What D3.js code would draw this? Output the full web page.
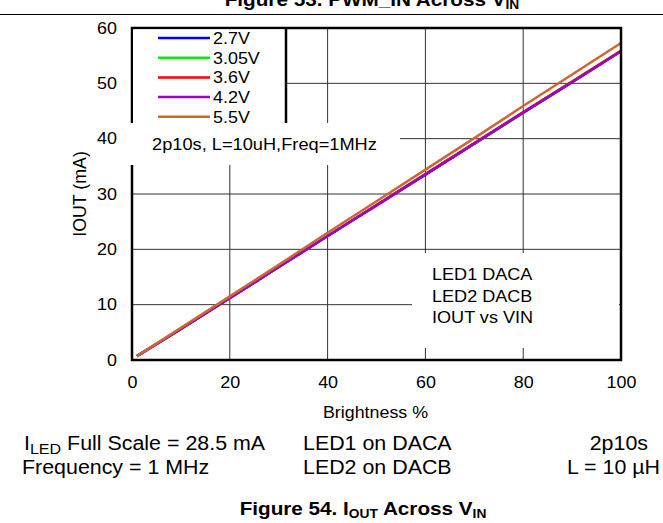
<!DOCTYPE html>
<html>
<head>
<meta charset="utf-8">
<script src="https://cdn.jsdelivr.net/npm/d3@7"></script>
<style>
  body { margin: 0; background: #fff; }
  svg text { font-family: "Liberation Sans", Arial, sans-serif; fill: #000; }
</style>
</head>
<body>
<svg width="663" height="523"></svg>
<script>
// brightness steps (%) and IOUT (mA) per supply voltage
var brightness = [1, 10, 20, 30, 40, 50, 60, 70, 80, 90, 100];
var v27  = [0.7, 5.6, 11.2, 16.8, 22.4, 28.0, 33.5, 39.1, 44.7, 50.2, 55.8];
var v305 = [0.7, 5.6, 11.2, 16.8, 22.4, 28.0, 33.6, 39.1, 44.7, 50.3, 55.9];
var v36  = [0.7, 5.6, 11.2, 16.8, 22.4, 28.0, 33.6, 39.2, 44.8, 50.3, 55.9];
var v42  = [0.7, 5.6, 11.2, 16.8, 22.4, 27.9, 33.5, 39.1, 44.7, 50.2, 55.8];
var v55  = [0.7, 5.8, 11.5, 17.2, 23.0, 28.7, 34.4, 40.1, 45.9, 51.6, 57.3];

var seriesNames = ["2.7V", "3.05V", "3.6V", "4.2V", "5.5V"];
var seriesColors = ["#0000ff", "#00ee00", "#ff0000", "#9900cc", "#cc6633"];
var seriesValues = [v27, v305, v36, v42, v55];

var xTicks = [0, 20, 40, 60, 80, 100];
var yTicks = [0, 10, 20, 30, 40, 50, 60];

var svg = d3.select("svg");
var margin = {top: 28, right: 42, bottom: 163, left: 132};
var width = +svg.attr("width") - margin.left - margin.right;
var height = +svg.attr("height") - margin.top - margin.bottom;

// the source text is a bit wider than plain Arial, so stretch it horizontally
function label(parent, x, y, str, size, sx, anchor) {
  return parent.append("text")
    .attr("transform", "translate(" + x + "," + y + ") scale(" + sx + ",1)")
    .attr("text-anchor", anchor || "start")
    .style("font-size", size + "px")
    .text(str);
}

// clipped title of the previous figure + rule
var prevTitle = svg.append("text")
  .attr("transform", "translate(372,6) scale(1.15,1)")
  .attr("text-anchor", "middle")
  .style("font-weight", "bold").style("font-size", "18px");
prevTitle.append("tspan").text("Figure 53. PWM_IN Across V");
prevTitle.append("tspan").attr("dy", 3).style("font-size", "12px").text("IN");
svg.append("line")
  .attr("x1", 0).attr("x2", 663).attr("y1", 14.5).attr("y2", 14.5)
  .attr("stroke", "#000").attr("stroke-width", 1);

var g = svg.append("g")
  .attr("transform", "translate(" + margin.left + "," + margin.top + ")");

var x = d3.scaleLinear().domain([0, 100]).range([0, width]);
var y = d3.scaleLinear().domain([0, 60]).range([height, 0]);

// grid
g.append("g").selectAll("line")
  .data(xTicks.slice(1, -1)).enter().append("line")
  .attr("x1", function(d) { return x(d); })
  .attr("x2", function(d) { return x(d); })
  .attr("y1", 0).attr("y2", height)
  .attr("stroke", "#333").attr("stroke-width", 1);
g.append("g").selectAll("line")
  .data(yTicks.slice(1, -1)).enter().append("line")
  .attr("y1", function(d) { return y(d); })
  .attr("y2", function(d) { return y(d); })
  .attr("x1", 0).attr("x2", width)
  .attr("stroke", "#333").attr("stroke-width", 1);

// series
var line = d3.line()
  .x(function(d, i) { return x(brightness[i]); })
  .y(function(d) { return y(d); });

seriesValues.forEach(function(vals, i) {
  g.append("path")
    .datum(vals)
    .attr("fill", "none")
    .attr("stroke", seriesColors[i])
    .attr("stroke-width", 2.5)
    .attr("d", line);
});

// frame
g.append("rect")
  .attr("width", width).attr("height", height)
  .attr("fill", "none").attr("stroke", "#000").attr("stroke-width", 2.5);

// axes
var xAxis = g.append("g")
  .attr("transform", "translate(0," + height + ")")
  .call(d3.axisBottom(x).tickValues(xTicks).tickSize(0).tickPadding(16));
var yAxis = g.append("g")
  .call(d3.axisLeft(y).tickValues(yTicks).tickSize(0).tickPadding(15));
[xAxis, yAxis].forEach(function(a) {
  a.select(".domain").remove();
  a.selectAll("text").style("font-size", "16px")
    .style("font-family", "Liberation Sans, Arial, sans-serif");
});
xAxis.selectAll(".tick text").attr("transform", "translate(0,17) scale(1.12,1)")
  .attr("y", 0);
yAxis.selectAll(".tick text").attr("transform", "translate(-15,0) scale(1.12,1)")
  .attr("x", 0);

// legend box
var legend = g.append("g");
legend.append("rect")
  .attr("x", 1).attr("y", 1.5).attr("width", 153).attr("height", 94)
  .attr("fill", "#fff");
legend.append("line")
  .attr("x1", 154).attr("x2", 154).attr("y1", 0).attr("y2", 95)
  .attr("stroke", "#000").attr("stroke-width", 2.5);
seriesNames.forEach(function(name, i) {
  var ly = 10 + i * 19.7;
  legend.append("line")
    .attr("x1", 26).attr("x2", 78).attr("y1", ly).attr("y2", ly)
    .attr("stroke", seriesColors[i]).attr("stroke-width", 2.5);
  label(legend, 81, ly + 6, name, 16, 1.12);
});

// condition box
g.append("rect")
  .attr("x", -3).attr("y", 95).attr("width", 271).attr("height", 42)
  .attr("fill", "#fff");
label(g, 20, 122, "2p10s, L=10uH,Freq=1MHz", 16, 1.14);

// info box
g.append("rect")
  .attr("x", 280).attr("y", 225).attr("width", 207).attr("height", 95)
  .attr("fill", "#fff");
["LED1 DACA", "LED2 DACB", "IOUT vs VIN"].forEach(function(t, i) {
  label(g, 300, 252 + i * 21.5, t, 16, 1.13);
});

// axis titles
svg.append("text")
  .attr("transform", "translate(86,194) rotate(-90)")
  .attr("text-anchor", "middle")
  .style("font-size", "17.8px")
  .text("IOUT (mA)");
label(svg, margin.left + width / 2 - 1, 418, "Brightness %", 17, 1.05, "middle");

// notes under the chart
var n1 = svg.append("text")
  .attr("transform", "translate(24,450) scale(1.07,1)")
  .style("font-size", "20px");
n1.append("tspan").text("I");
n1.append("tspan").attr("dy", 4).style("font-size", "15px").text("LED");
n1.append("tspan").attr("dy", -4).text(" Full Scale = 28.5 mA");
label(svg, 22, 474, "Frequency = 1 MHz", 20, 1.07);
label(svg, 303, 450, "LED1 on DACA", 20, 1.07);
label(svg, 303, 474, "LED2 on DACB", 20, 1.07);
label(svg, 648, 450, "2p10s", 20, 1.07, "end");
label(svg, 660, 474, "L = 10 \u00b5H", 20, 1.07, "end");

// caption
var cap = svg.append("text")
  .attr("transform", "translate(363,515) scale(1.15,1)")
  .attr("text-anchor", "middle")
  .style("font-weight", "bold").style("font-size", "18px");
cap.append("tspan").text("Figure 54. I");
cap.append("tspan").attr("dy", 3).style("font-size", "12px").text("OUT");
cap.append("tspan").attr("dy", -3).text(" Across V");
cap.append("tspan").attr("dy", 3).style("font-size", "12px").text("IN");
</script>
</body>
</html>
